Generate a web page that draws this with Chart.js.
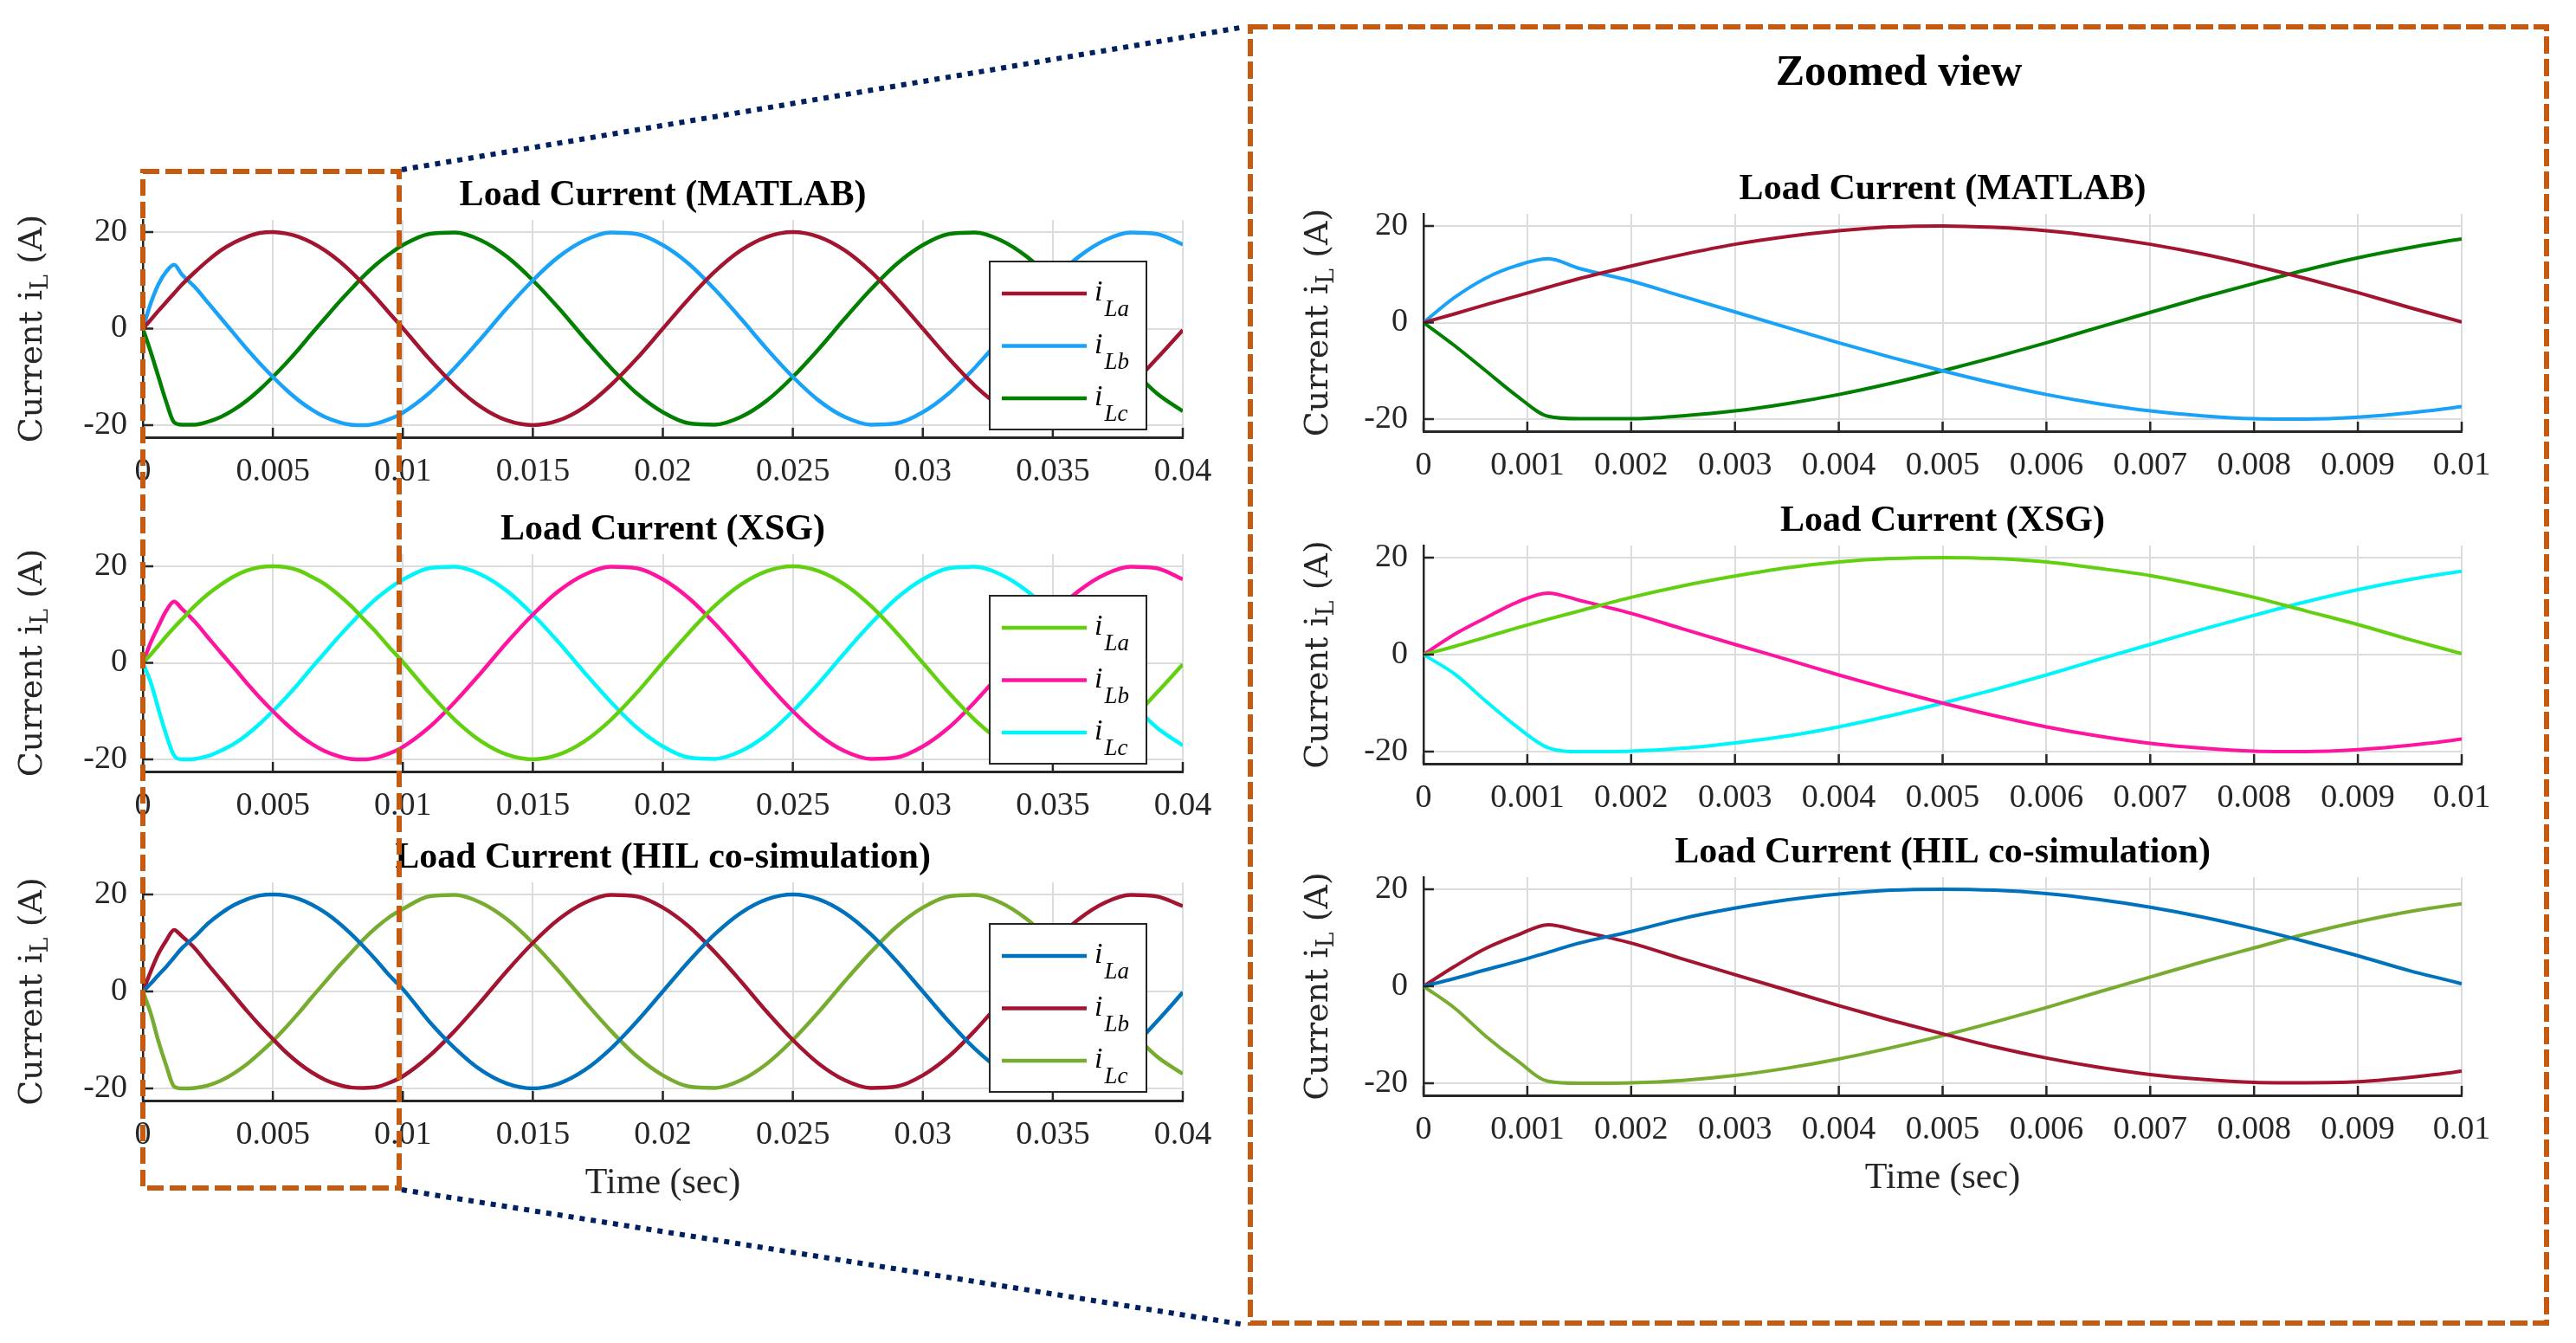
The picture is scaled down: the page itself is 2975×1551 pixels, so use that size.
<!DOCTYPE html>
<html lang="en">
<head>
<meta charset="UTF-8" />
<title>Load Current</title>
<script src="https://cdn.jsdelivr.net/npm/chart.js"></script>
<style>
  html, body { margin: 0; padding: 0; background: #fff; }
  #page { position: relative; width: 2975px; height: 1551px; overflow: hidden; background: #fff; }
  #page canvas { position: absolute; }
</style>
</head>
<body>
<div id="page">
  <canvas id="left1"></canvas>
  <canvas id="left2"></canvas>
  <canvas id="left3"></canvas>
  <canvas id="right1"></canvas>
  <canvas id="right2"></canvas>
  <canvas id="right3"></canvas>
  <canvas id="deco" width="2975" height="1551" style="left:0;top:0"></canvas>
</div>
<script>
// time samples (s): finer during the start-up transient
const timeSec = [0, 0.0003, 0.0006, 0.0009, 0.0012, 0.0015, 0.002, 0.0025, 0.003, 0.0035, 0.004, 0.0045,
  0.005, 0.0055, 0.006, 0.0065, 0.007, 0.0075, 0.008, 0.0085, 0.009, 0.0095, 0.01,
  0.011, 0.012, 0.013, 0.014, 0.015, 0.016, 0.017, 0.018, 0.019, 0.02,
  0.021, 0.022, 0.023, 0.024, 0.025, 0.026, 0.027, 0.028, 0.029, 0.03,
  0.031, 0.032, 0.033, 0.034, 0.035, 0.036, 0.037, 0.038, 0.039, 0.04];

const xTicksFull = [0, 0.005, 0.01, 0.015, 0.02, 0.025, 0.03, 0.035, 0.04];
const xTicksZoom = [0, 0.001, 0.002, 0.003, 0.004, 0.005, 0.006, 0.007, 0.008, 0.009, 0.01];
const yTicks = [-20, 0, 20];
const phaseLabels = ['iLa', 'iLb', 'iLc'];

// MATLAB
const matlabLa = [0, 1.8, 3.7, 5.5, 7.3, 9.1, 11.7, 14.1, 16.2, 17.8, 19.0, 19.8, 20.0, 19.7, 19.0, 17.8, 16.2, 14.2, 11.8, 9.1, 6.2, 3.1, 0.1,
  -6.2, -11.8, -16.2, -19.0, -20.0, -19.0, -16.2, -11.7, -6.2, 0, 6.2, 11.8, 16.2, 19.0, 20.0, 19.0, 16.2, 11.8, 6.2, 0,
  -6.2, -11.8, -16.2, -19.0, -20.0, -19.0, -16.2, -11.8, -6.2, -0.3];
const matlabLb = [0, 5.2, 9.2, 11.8, 13.2, 11.2, 8.6, 5.4, 2.2, -1.0, -4.2, -7.2, -10.0, -12.6, -14.9, -16.8, -18.3, -19.3, -19.9, -20.0, -19.6, -18.7, -17.4,
  -13.4, -8.1, -2.1, 4.2, 10.0, 14.9, 18.3, 19.9, 19.6, 17.3, 13.4, 8.1, 2.1, -4.2, -10.0, -14.9, -18.3, -19.9, -19.6, -17.3,
  -13.4, -8.1, -2.1, 4.2, 10.0, 14.9, 18.3, 19.9, 19.6, 17.4];
const matlabLc = [0, -4.8, -10.0, -15.2, -19.4, -19.9, -19.9, -19.3, -18.3, -16.8, -14.9, -12.6, -10.0, -7.2, -4.2, -1.0, 2.1, 5.2, 8.1, 10.9, 13.4, 15.5, 17.3,
  19.6, 19.9, 18.3, 14.9, 10.0, 4.2, -2.1, -8.1, -13.4, -17.3, -19.6, -19.9, -18.3, -14.9, -10.0, -4.2, 2.1, 8.1, 13.4, 17.3,
  19.6, 19.9, 18.3, 14.9, 10.0, 4.2, -2.1, -8.1, -13.4, -17.1];

// XSG
const xsgLa = [0, 1.7, 3.6, 5.5, 7.3, 9.0, 11.8, 14.2, 16.2, 17.9, 19.1, 19.8, 20.0, 19.8, 19.1, 17.8, 16.3, 14.2, 11.8, 9.0, 6.2, 3.1, 0.2,
  -6.1, -11.8, -16.2, -19.0, -20.0, -19.0, -16.2, -11.8, -6.2, 0.1, 6.2, 11.8, 16.2, 19.0, 20.0, 19.0, 16.2, 11.8, 6.2, 0,
  -6.2, -11.8, -16.2, -19.0, -20.0, -19.0, -16.2, -11.8, -6.2, -0.3];
const xsgLb = [0, 4.2, 7.6, 10.8, 12.7, 11.2, 8.5, 5.3, 2.1, -1.0, -4.2, -7.2, -10.0, -12.6, -14.9, -16.8, -18.3, -19.3, -19.9, -20.0, -19.6, -18.7, -17.4,
  -13.4, -8.1, -2.1, 4.2, 10.0, 14.9, 18.3, 19.9, 19.6, 17.3, 13.4, 8.1, 2.1, -4.2, -10.0, -14.9, -18.3, -19.9, -19.6, -17.3,
  -13.4, -8.1, -2.1, 4.2, 10.0, 14.9, 18.3, 19.9, 19.6, 17.3];
const xsgLc = [0, -4.0, -9.6, -14.9, -19.2, -20.0, -19.9, -19.3, -18.2, -16.8, -14.9, -12.6, -10.0, -7.2, -4.2, -1.0, 2.1, 5.2, 8.1, 10.9, 13.4, 15.5, 17.2,
  19.6, 19.9, 18.3, 14.9, 10.0, 4.2, -2.1, -8.1, -13.4, -17.3, -19.6, -19.9, -18.3, -14.9, -10.0, -4.2, 2.1, 8.1, 13.4, 17.3,
  19.6, 19.9, 18.3, 14.9, 10.0, 4.2, -2.1, -8.1, -13.4, -17.1];

// HIL co-simulation
const hilLa = [0, 1.6, 3.4, 5.1, 7.0, 8.9, 11.3, 14.0, 16.1, 17.8, 19.0, 19.8, 20.0, 19.8, 19.1, 17.9, 16.3, 14.3, 11.9, 9.2, 6.3, 3.2, 0.5,
  -6.1, -11.7, -16.2, -19.0, -20.0, -19.0, -16.2, -11.8, -6.2, 0, 6.2, 11.8, 16.2, 19.0, 20.0, 19.0, 16.2, 11.8, 6.2, 0,
  -6.2, -11.8, -16.2, -19.0, -20.0, -19.0, -16.2, -11.8, -6.2, -0.2];
const hilLb = [0, 4.1, 7.8, 10.5, 12.7, 11.4, 8.9, 5.6, 2.4, -0.8, -4.0, -7.0, -9.8, -12.5, -14.8, -16.7, -18.2, -19.2, -19.8, -19.9, -19.7, -18.8, -17.5,
  -13.4, -8.1, -2.1, 4.2, 10.0, 14.9, 18.3, 19.9, 19.6, 17.3, 13.4, 8.1, 2.1, -4.2, -10.0, -14.9, -18.3, -19.9, -19.6, -17.3,
  -13.4, -8.1, -2.1, 4.2, 10.0, 14.9, 18.3, 19.9, 19.6, 17.6];
const hilLc = [0, -4.5, -10.3, -15.3, -19.6, -20.0, -19.9, -19.4, -18.4, -16.9, -15.0, -12.7, -10.2, -7.4, -4.4, -1.2, 1.9, 5.0, 7.9, 10.8, 13.3, 15.4, 17.0,
  19.6, 19.9, 18.3, 14.9, 10.0, 4.2, -2.1, -8.1, -13.4, -17.3, -19.6, -19.9, -18.3, -14.9, -10.0, -4.2, 2.1, 8.1, 13.4, 17.3,
  19.6, 19.9, 18.3, 14.9, 10.0, 4.2, -2.1, -8.1, -13.4, -17.0];

const matlabColors = ['#A2142F', '#19A2F8', '#007F00'];
const xsgColors = ['#62D011', '#FF14A0', '#00F5FA'];
const hilColors = ['#0072BD', '#A2142F', '#77AC30'];

const padL = 160, padT = 80, padR = 70, padB = 130;
const axisColor = '#262626';

// draws MATLAB-like extras: inward ticks, title, y label, legend, x label
const panelPlugin = {
  id: 'panel',
  afterDraw(chart, args, o) {
    const ctx = chart.ctx;
    const a = chart.chartArea;
    const xs = chart.scales.x, ys = chart.scales.y;
    ctx.save();
    ctx.strokeStyle = axisColor;
    ctx.lineWidth = 2.5;
    ctx.beginPath();
    xs.ticks.forEach(t => {
      const px = xs.getPixelForValue(t.value);
      ctx.moveTo(px, a.bottom); ctx.lineTo(px, a.bottom - 11);
    });
    ys.ticks.forEach(t => {
      const py = ys.getPixelForValue(t.value);
      ctx.moveTo(a.left, py); ctx.lineTo(a.left + 12, py);
    });
    ctx.stroke();

    // title
    ctx.fillStyle = '#000';
    ctx.font = 'bold 42px "Liberation Serif"';
    ctx.textAlign = 'center';
    ctx.textBaseline = 'alphabetic';
    ctx.fillText(o.title, (a.left + a.right) / 2, a.top - 17);

    // x label
    if (o.xlabel) {
      ctx.fillStyle = axisColor;
      ctx.font = '42px "Liberation Serif"';
      ctx.fillText(o.xlabel, (a.left + a.right) / 2, a.bottom + 107);
    }

    // y label with subscript
    ctx.save();
    ctx.translate(a.left - o.ylabelOffset, (a.top + a.bottom) / 2);
    ctx.rotate(-Math.PI / 2);
    ctx.fillStyle = axisColor;
    ctx.textAlign = 'left';
    ctx.textBaseline = 'middle';
    const big = '38px "DejaVu Serif"', small = '27px "DejaVu Serif"';
    ctx.font = big;
    const w1 = ctx.measureText('Current i').width;
    const w3 = ctx.measureText(' (A)').width;
    ctx.font = small;
    const w2 = ctx.measureText('L').width;
    let x0 = -(w1 + w2 + w3) / 2;
    ctx.font = big;
    ctx.fillText('Current i', x0, 0);
    ctx.font = small;
    ctx.fillText('L', x0 + w1, 10);
    ctx.font = big;
    ctx.fillText(' (A)', x0 + w1 + w2, 0);
    ctx.restore();

    // legend
    if (o.legend) {
      const lw = 181, lh = 194;
      const lx = a.right - 42 - lw, ly = a.top + 48;
      ctx.fillStyle = '#fff';
      ctx.fillRect(lx, ly, lw, lh);
      ctx.strokeStyle = axisColor;
      ctx.lineWidth = 2;
      ctx.strokeRect(lx, ly, lw, lh);
      chart.data.datasets.forEach((ds, i) => {
        const ey = ly + 37 + i * 60.5;
        ctx.strokeStyle = ds.borderColor;
        ctx.lineWidth = 4.5;
        ctx.beginPath();
        ctx.moveTo(lx + 14, ey); ctx.lineTo(lx + 112, ey);
        ctx.stroke();
        ctx.fillStyle = '#000';
        ctx.textAlign = 'left';
        ctx.textBaseline = 'alphabetic';
        ctx.font = 'italic 34px "Liberation Serif"';
        ctx.fillText(ds.label[0], lx + 121, ey + 8);
        const iw = ctx.measureText(ds.label[0]).width;
        ctx.font = 'italic 27px "Liberation Serif"';
        ctx.fillText(ds.label.slice(1), lx + 123 + iw, ey + 26);
      });
    }
    ctx.restore();
  }
};

function makePanel(id, box, xMax, xTicks, series, colors, extra) {
  const cv = document.getElementById(id);
  cv.width = box.r - box.l + padL + padR;
  cv.height = box.b - box.t + padT + padB;
  cv.style.left = (box.l - padL) + 'px';
  cv.style.top = (box.t - padT) + 'px';
  const tickFont = { family: 'Liberation Serif', size: 38 };
  return new Chart(cv, {
    type: 'line',
    data: {
      datasets: series.map((s, i) => ({
        label: phaseLabels[i],
        data: timeSec.map((t, j) => ({ x: t, y: s[j] })),
        borderColor: colors[i],
        borderWidth: extra.lineWidth,
        pointRadius: 0,
        cubicInterpolationMode: 'monotone',
        fill: false
      }))
    },
    options: {
      responsive: false,
      animation: false,
      devicePixelRatio: 1,
      layout: { padding: { top: padT, right: padR, left: 0, bottom: 0 } },
      plugins: {
        legend: { display: false },
        tooltip: { enabled: false },
        panel: extra
      },
      scales: {
        x: {
          type: 'linear', min: 0, max: xMax,
          afterBuildTicks: s => { s.ticks = xTicks.map(v => ({ value: v })); },
          afterFit: s => { s.height = padB; },
          grid: { color: '#dcdcdc', lineWidth: 2, drawTicks: false },
          border: { color: axisColor, width: 3 },
          ticks: { font: tickFont, color: axisColor, padding: 17, maxRotation: 0, autoSkip: false, callback: v => String(v) }
        },
        y: {
          type: 'linear', min: -22.5, max: 22.5,
          afterBuildTicks: s => { s.ticks = yTicks.map(v => ({ value: v })); },
          afterFit: s => { s.width = padL; },
          grid: { color: '#dcdcdc', lineWidth: 2, drawTicks: false },
          border: { color: axisColor, width: 2.5 },
          ticks: { font: tickFont, color: axisColor, padding: 18, callback: v => String(v) }
        }
      }
    },
    plugins: [panelPlugin]
  });
}

makePanel('left1', { l: 165, t: 254, r: 1366, b: 505 }, 0.04, xTicksFull, [matlabLa, matlabLb, matlabLc], matlabColors,
  { title: 'Load Current (MATLAB)', legend: true, ylabelOffset: 127, lineWidth: 4.5 });
makePanel('left2', { l: 165, t: 640, r: 1366, b: 891 }, 0.04, xTicksFull, [xsgLa, xsgLb, xsgLc], xsgColors,
  { title: 'Load Current (XSG)', legend: true, ylabelOffset: 127, lineWidth: 4.5 });
makePanel('left3', { l: 165, t: 1019, r: 1366, b: 1271 }, 0.04, xTicksFull, [hilLa, hilLb, hilLc], hilColors,
  { title: 'Load Current (HIL co-simulation)', legend: true, ylabelOffset: 127, lineWidth: 4.5, xlabel: 'Time (sec)' });
makePanel('right1', { l: 1644, t: 247, r: 2843, b: 498 }, 0.01, xTicksZoom, [matlabLa, matlabLb, matlabLc], matlabColors,
  { title: 'Load Current (MATLAB)', legend: false, ylabelOffset: 121, lineWidth: 4 });
makePanel('right2', { l: 1644, t: 630, r: 2843, b: 882 }, 0.01, xTicksZoom, [xsgLa, xsgLb, xsgLc], xsgColors,
  { title: 'Load Current (XSG)', legend: false, ylabelOffset: 121, lineWidth: 4 });
makePanel('right3', { l: 1644, t: 1013, r: 2843, b: 1265 }, 0.01, xTicksZoom, [hilLa, hilLb, hilLc], hilColors,
  { title: 'Load Current (HIL co-simulation)', legend: false, ylabelOffset: 121, lineWidth: 4, xlabel: 'Time (sec)' });

// zoom boxes and connector lines
const d = document.getElementById('deco').getContext('2d');
d.lineWidth = 6;
d.strokeStyle = '#C55A11';
d.setLineDash([19, 7]);
d.strokeRect(165, 198, 296, 1174);
d.setLineDash([20, 6]);
d.strokeRect(1444, 31, 1497, 1497);
d.strokeStyle = '#002060';
d.setLineDash([6, 7]);
d.beginPath();
d.moveTo(464, 196); d.lineTo(1438, 31);
d.moveTo(464, 1374); d.lineTo(1438, 1530);
d.stroke();
d.setLineDash([]);
d.fillStyle = '#000';
d.font = 'bold 50px "Liberation Serif"';
d.textAlign = 'center';
d.fillText('Zoomed view', 2193, 98);
</script>
</body>
</html>
